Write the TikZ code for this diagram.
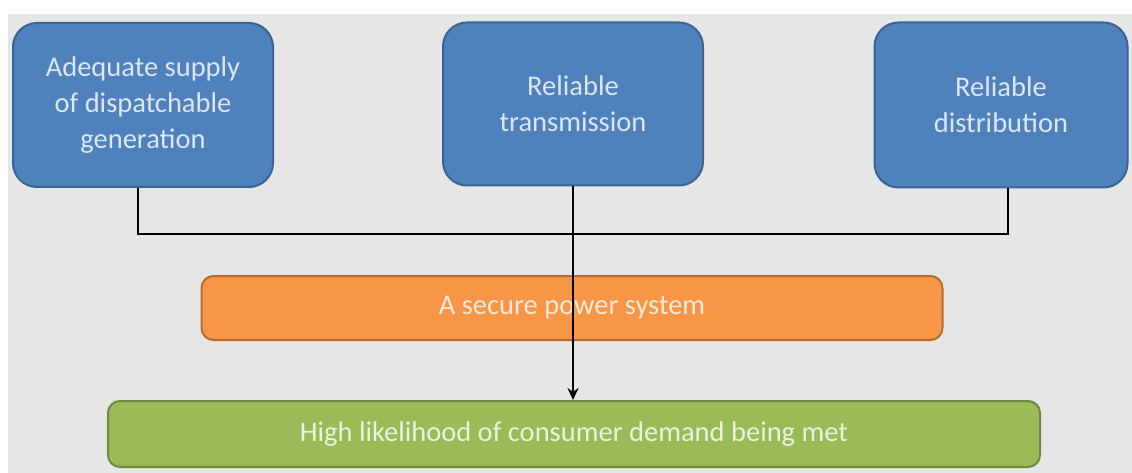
\documentclass[tikz,border=0pt]{standalone}
\usepackage{fontspec}
\setmainfont{Carlito}
\usetikzlibrary{arrows.meta}
\definecolor{bgGray}{HTML}{E6E6E6}
\definecolor{boxBlue}{HTML}{4F81BD}
\definecolor{lineBlue}{HTML}{3A6494}
\definecolor{txtBlue}{HTML}{DCE6F2}
\definecolor{boxOrange}{HTML}{F79646}
\definecolor{lineOrange}{HTML}{B66D31}
\definecolor{txtOrange}{HTML}{FDE9D9}
\definecolor{boxGreen}{HTML}{9BBB59}
\definecolor{lineGreen}{HTML}{71893F}
\definecolor{txtGreen}{HTML}{EBF1DE}
\tikzset{
  base/.style={rounded corners=24pt, line width=2pt, align=center, inner sep=0pt,
    font=\fontsize{28.5}{36}\selectfont},
  blue box/.style={base, fill=boxBlue, draw=lineBlue, text=txtBlue},
  bar/.style={base, rounded corners=12pt},
  link/.style={line width=2pt}
}
\begin{document}
\begin{tikzpicture}[x=1pt,y=-1pt]
\useasboundingbox (0,0) rectangle (1132,473);
\fill[bgGray] (8,14) rectangle (1132,473);
\node[blue box, minimum width=260pt, minimum height=164pt] (gen) at (143,105)
  {Adequate supply\\of dispatchable\\generation};
\node[blue box, minimum width=260pt, minimum height=163pt] (trans) at (573,104)
  {Reliable\\transmission};
\node[blue box, minimum width=253pt, minimum height=165pt] (dist) at (1001,105)
  {Reliable\\distribution};
\node[bar, fill=boxOrange, draw=lineOrange, text=txtOrange,
  minimum width=741pt, minimum height=64pt] (secure) at (572,308)
  {A secure power system};
\node[bar, fill=boxGreen, draw=lineGreen, text=txtGreen,
  minimum width=932pt, minimum height=66pt] (demand) at (574,434)
  {High likelihood of consumer demand being met};
\draw[link] ([xshift=-5pt]gen.south) -- ++(0,46) -| ([xshift=7pt]dist.south);
\draw[link, -{Stealth[length=12pt,width=11pt]}] (trans.south) -- (trans.south |- demand.north);
\end{tikzpicture}
\end{document}
